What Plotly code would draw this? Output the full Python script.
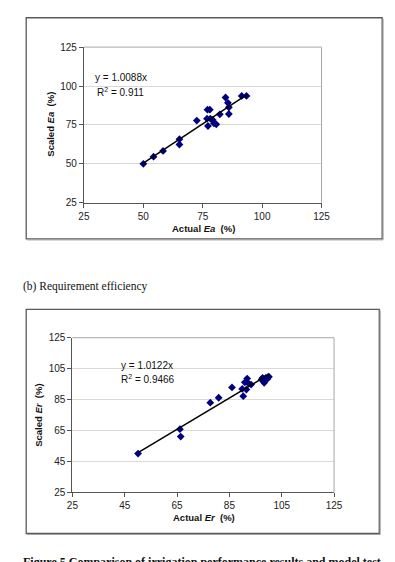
import plotly.graph_objects as go

# ---- Data: (a) application efficiency ----
ea_actual = [50.0, 54.3, 58.3, 65.2, 65.2, 72.5, 77.0, 78.0, 76.8, 78.2, 79.2, 77.2,
             79.7, 80.7, 82.2, 84.6, 85.6, 86.0, 86.0, 91.4, 93.4]
ea_scaled = [50.0, 54.6, 58.3, 65.8, 62.4, 77.8, 84.8, 84.8, 79.0, 79.0, 78.2, 74.3,
             76.0, 75.4, 81.8, 92.6, 89.2, 86.3, 82.0, 93.6, 93.6]
ea_slope = 1.0088
ea_r2 = "0.911"

# ---- Data: (b) requirement efficiency ----
er_actual = [50.1, 66.1, 66.4, 77.7, 80.9, 86.0, 90.3, 89.9, 90.9, 91.8, 91.5, 92.4,
             93.3, 97.3, 97.7, 98.3, 98.9, 99.5, 100.1, 99.7]
er_scaled = [50.1, 65.9, 61.1, 83.0, 86.2, 92.9, 87.2, 91.9, 96.2, 98.6, 91.5, 95.3,
             94.7, 98.0, 99.1, 95.9, 99.1, 98.4, 99.8, 99.6]
er_slope = 1.0122
er_r2 = "0.9466"

top_ticks = [25, 50, 75, 100, 125]
bot_ticks = [25, 45, 65, 85, 105, 125]

W, H = 395, 562
def px(x):
    return x / W
def py(y):
    return 1 - y / H

SANS = "Liberation Sans, Arial, sans-serif"
SERIF = "Liberation Serif, Times New Roman, serif"
NAVY = "#00007f"

fig = go.Figure()

fig.add_trace(go.Scatter(x=ea_actual, y=ea_scaled, mode="markers", xaxis="x", yaxis="y",
                         marker=dict(symbol="diamond", size=6, color=NAVY), showlegend=False))
fig.add_trace(go.Scatter(x=[min(ea_actual), max(ea_actual)],
                         y=[ea_slope * min(ea_actual), ea_slope * max(ea_actual)],
                         mode="lines", xaxis="x", yaxis="y",
                         line=dict(color="black", width=1.5), showlegend=False))
fig.add_trace(go.Scatter(x=er_actual, y=er_scaled, mode="markers", xaxis="x2", yaxis="y2",
                         marker=dict(symbol="diamond", size=6, color=NAVY), showlegend=False))
fig.add_trace(go.Scatter(x=[min(er_actual), max(er_actual)],
                         y=[er_slope * min(er_actual), er_slope * max(er_actual)],
                         mode="lines", xaxis="x2", yaxis="y2",
                         line=dict(color="black", width=1.5), showlegend=False))

tickfont = dict(family=SANS, size=10, color="#222")
common_x = dict(showgrid=False, zeroline=False, showline=True, linecolor="#555", linewidth=1,
                ticks="outside", ticklen=4, tickcolor="#555", tickfont=tickfont, fixedrange=True)
common_y = dict(showgrid=True, gridcolor="#d9d9d9", gridwidth=1, zeroline=False, showline=True,
                linecolor="#555", linewidth=1, ticks="outside", ticklen=4, tickcolor="#555",
                tickfont=tickfont, fixedrange=True)

fig.update_layout(
    width=W, height=H,
    margin=dict(l=0, r=0, t=0, b=0),
    paper_bgcolor="white", plot_bgcolor="white",
    xaxis=dict(domain=[px(81), px(328)], range=[25, 125], tickvals=top_ticks, anchor="y", **common_x),
    yaxis=dict(domain=[py(201), py(42)], range=[25, 125], tickvals=top_ticks, anchor="x", **common_y),
    xaxis2=dict(domain=[px(69), px(341)], range=[25, 125], tickvals=bot_ticks, anchor="y2", **common_x),
    yaxis2=dict(domain=[py(497), py(339)], range=[25, 125], tickvals=bot_ticks, anchor="x2", **common_y),
)

shapes = []
for (x0, y0, x1, y1) in [(21, 12, 391, 238), (21, 310, 388, 539)]:
    shapes.append(dict(type="rect", xref="paper", yref="paper", x0=px(x0), x1=px(x1),
                       y0=py(y1), y1=py(y0), line=dict(color="#5a5a5a", width=1.3)))
    shapes.append(dict(type="line", xref="paper", yref="paper", x0=px(x1 + 1), x1=px(x1 + 1),
                       y0=py(y1 + 1), y1=py(y0 + 1), line=dict(color="#a0a0a0", width=1)))
    shapes.append(dict(type="line", xref="paper", yref="paper", x0=px(x0 + 1), x1=px(x1 + 1),
                       y0=py(y1 + 1), y1=py(y1 + 1), line=dict(color="#a0a0a0", width=1)))
for (x0, y0, x1, y1) in [(81, 42, 328, 201), (69, 339, 341, 497)]:
    shapes.append(dict(type="line", xref="paper", yref="paper", x0=px(x0), x1=px(x1),
                       y0=py(y0), y1=py(y0), line=dict(color="#a6a6a6", width=1)))
    shapes.append(dict(type="line", xref="paper", yref="paper", x0=px(x1), x1=px(x1),
                       y0=py(y1), y1=py(y0), line=dict(color="#a6a6a6", width=1)))
fig.update_layout(shapes=shapes)

ann = []
def text(x, y, s, size=9, family=SANS, xanchor="center", yanchor="middle", angle=0):
    ann.append(dict(x=px(x), y=py(y), xref="paper", yref="paper", text=s, showarrow=False,
                    xanchor=xanchor, yanchor=yanchor, textangle=angle,
                    font=dict(family=family, size=size, color="#111")))

# axis titles
text(205, 227, "<b>Actual <i>Ea</i>  (%)</b>", size=9.5)
text(46, 121, "<b>Scaled <i>Ea</i>  (%)</b>", size=9.5, angle=-90)
text(206, 523, "<b>Actual <i>Er</i>  (%)</b>", size=9.5)
text(33, 418, "<b>Scaled <i>Er</i>  (%)</b>", size=9.5, angle=-90)

# trendline equations
text(90, 73, f"y = {ea_slope}x", size=10, xanchor="left")
text(93, 88, f"R<sup>2</sup> = {ea_r2}", size=10, xanchor="left")
text(117, 367, f"y = {er_slope}x", size=10, xanchor="left")
text(117, 381, f"R<sup>2</sup> = {er_r2}", size=10, xanchor="left")

# document texts
text(16, 287, "(b) Requirement efficiency", size=11.5, family=SERIF, xanchor="left")
text(16, 559, "<b>Figure 5 Comparison of irrigation performance results and model test</b>",
     size=12, family=SERIF, xanchor="left", yanchor="top")

fig.update_layout(annotations=ann)

fig.write_html("out.html")
